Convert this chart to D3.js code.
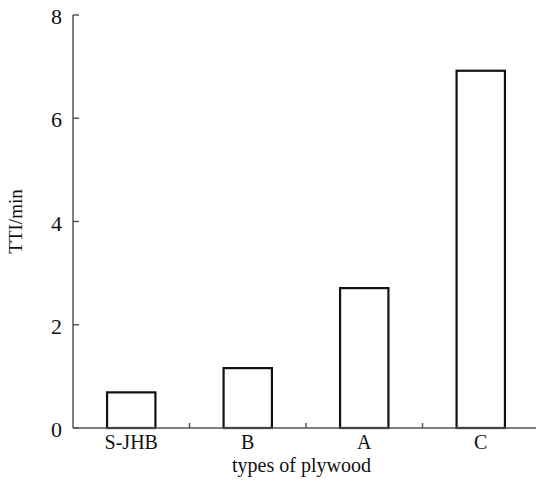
<!DOCTYPE html>
<html>
<head>
<meta charset="utf-8">
<script src="https://cdn.jsdelivr.net/npm/d3@7"></script>
<style>
  body { margin: 0; background: #fff; }
  text { font-family: "Liberation Serif", "Times New Roman", serif; fill: #111; }
</style>
</head>
<body>
<svg id="chart" width="536" height="483"></svg>
<script>
const categories = ["S-JHB", "B", "A", "C"];
const tti = [0.69, 1.16, 2.71, 6.92];
const yTicks = [0, 2, 4, 6, 8];

const svg = d3.select("#chart");
const margin = { top: 15, left: 73, bottom: 55 };
const height = +svg.attr("height");

const x = d3.scaleBand()
  .domain(categories)
  .range([margin.left, margin.left + 4 * 116.5])
  .paddingInner(0.585)
  .paddingOuter(0.2925);

const y = d3.scaleLinear()
  .domain([0, 8])
  .range([height - margin.bottom, margin.top]);

const y0 = y(0);
const gap = (x.step() - x.bandwidth()) / 2;

// bars
svg.append("g")
  .selectAll("rect")
  .data(categories)
  .enter()
  .append("rect")
  .attr("x", d => x(d))
  .attr("y", (d, i) => y(tti[i]))
  .attr("width", x.bandwidth())
  .attr("height", (d, i) => y0 - y(tti[i]))
  .attr("fill", "#fff")
  .attr("stroke", "#111")
  .attr("stroke-width", 2.2);

// y axis
const yAxis = svg.append("g");
yAxis.append("line")
  .attr("x1", margin.left).attr("x2", margin.left)
  .attr("y1", y(8)).attr("y2", y0)
  .attr("stroke", "#555").attr("stroke-width", 1.5);
yAxis.selectAll(".tick")
  .data(yTicks)
  .enter()
  .append("line")
  .attr("x1", margin.left).attr("x2", margin.left + 6)
  .attr("y1", d => y(d)).attr("y2", d => y(d))
  .attr("stroke", "#555").attr("stroke-width", 1.5);
yAxis.selectAll("text")
  .data(yTicks)
  .enter()
  .append("text")
  .attr("x", margin.left - 11)
  .attr("y", d => y(d) + 9)
  .attr("text-anchor", "end")
  .style("font-size", "22px")
  .text(d => d);

// x axis, ticks sit between the categories
const xAxis = svg.append("g");
xAxis.append("line")
  .attr("x1", margin.left).attr("x2", 536)
  .attr("y1", y0).attr("y2", y0)
  .attr("stroke", "#555").attr("stroke-width", 1.5);
xAxis.selectAll(".tick")
  .data(categories.slice(1))
  .enter()
  .append("line")
  .attr("x1", d => x(d) - gap)
  .attr("x2", d => x(d) - gap)
  .attr("y1", y0).attr("y2", y0 - 5)
  .attr("stroke", "#555").attr("stroke-width", 1.5);
xAxis.selectAll("text")
  .data(categories)
  .enter()
  .append("text")
  .attr("x", d => x(d) + x.bandwidth() / 2)
  .attr("y", y0 + 21)
  .attr("text-anchor", "middle")
  .style("font-size", "20px")
  .text(d => d);

// axis titles
svg.append("text")
  .attr("x", (margin.left + 536) / 2 - 3)
  .attr("y", height - 11)
  .attr("text-anchor", "middle")
  .style("font-size", "20px")
  .text("types of plywood");

svg.append("text")
  .attr("transform", `translate(22, ${y(4)}) rotate(-90)`)
  .attr("text-anchor", "middle")
  .style("font-size", "19px")
  .text("TTI/min");
</script>
</body>
</html>
